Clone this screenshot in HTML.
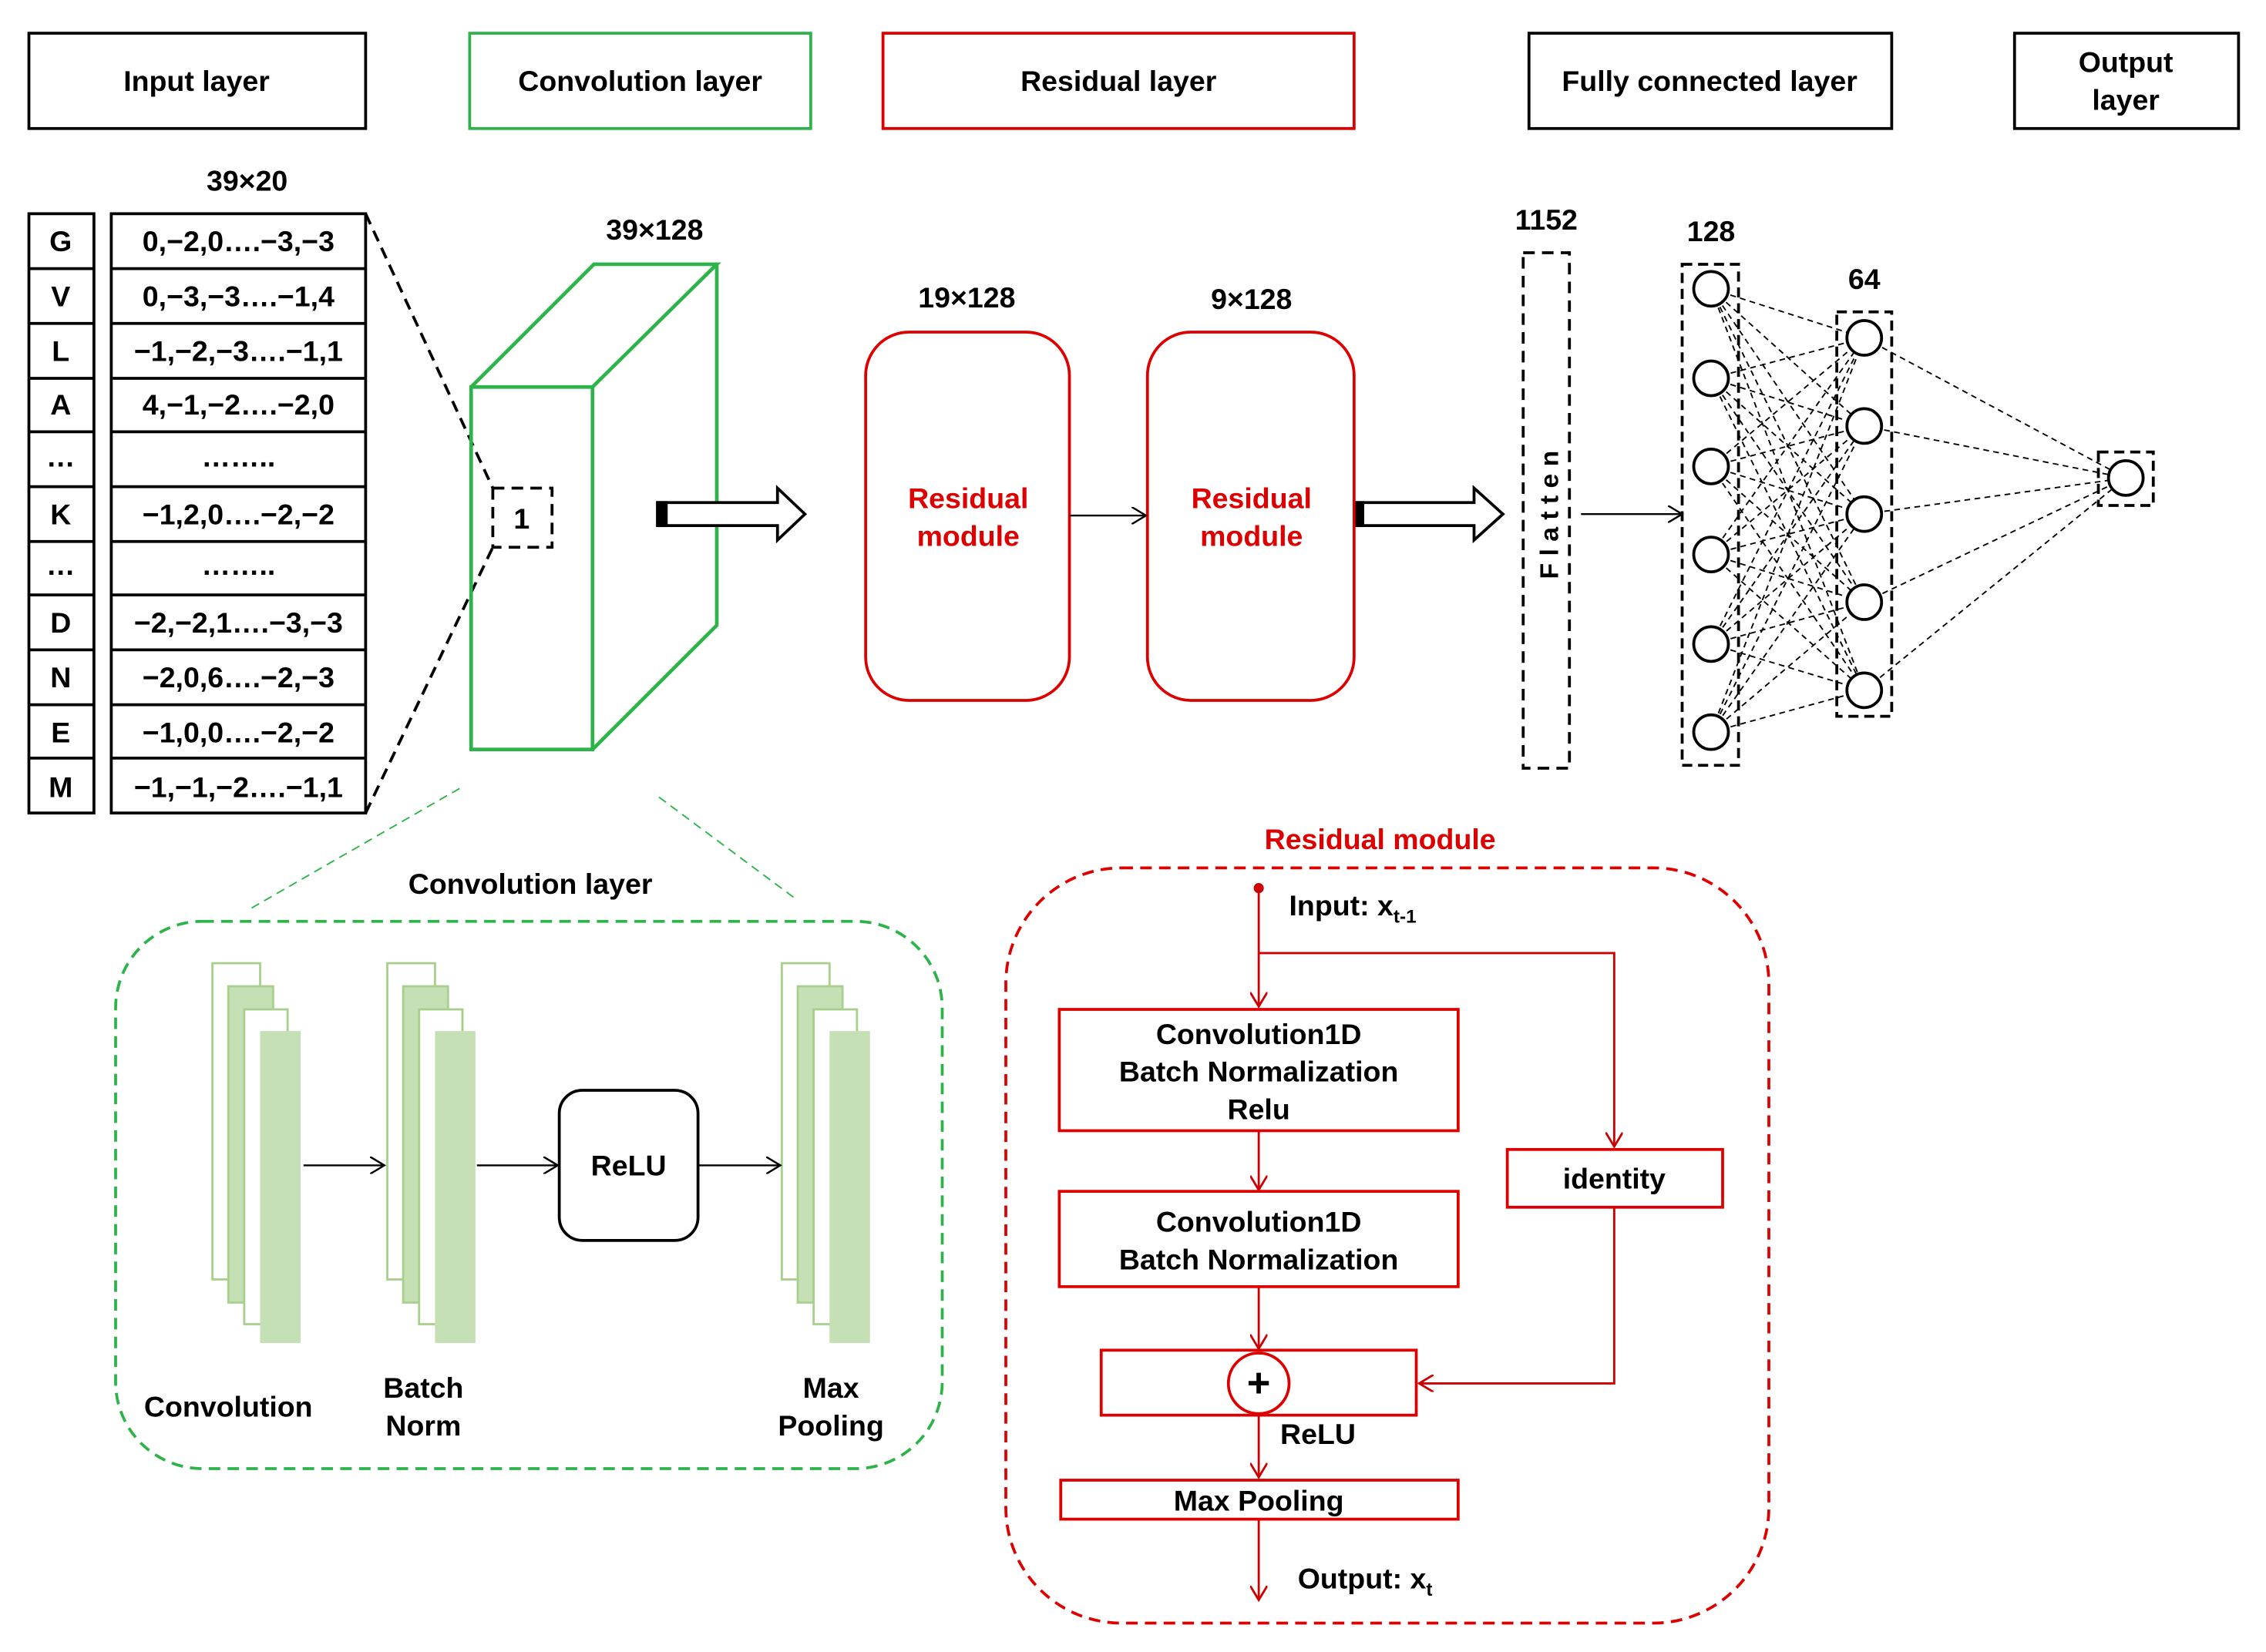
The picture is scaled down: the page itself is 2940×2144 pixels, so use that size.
<!DOCTYPE html>
<html><head><meta charset="utf-8"><style>
html,body{margin:0;padding:0;background:#fff}
svg{display:block}
text{font-family:"Liberation Sans",Arial,sans-serif;font-weight:bold;font-size:20px;fill:#000}
text.r{fill:#d00}
</style></head><body>
<svg width="2940" height="2144" viewBox="0 0 1568 1144" preserveAspectRatio="none" xmlns="http://www.w3.org/2000/svg">
<defs>
<marker id="ab" markerWidth="12" markerHeight="12" refX="10" refY="6" orient="auto" markerUnits="userSpaceOnUse"><path d="M0,0 L10,6 L0,12" fill="none" stroke="#000" stroke-width="1.3"/></marker>
<marker id="ar" markerWidth="12" markerHeight="12" refX="10" refY="6" orient="auto" markerUnits="userSpaceOnUse"><path d="M0,0 L10,6 L0,12" fill="none" stroke="#c00" stroke-width="1.5"/></marker>
</defs>
<g fill="none" stroke-width="2">
<rect x="20" y="23" width="233" height="66" stroke="#000"/>
<rect x="325" y="23" width="236" height="66" stroke="#2db34a"/>
<rect x="611" y="23" width="326" height="66" stroke="#d00"/>
<rect x="1058" y="23" width="251" height="66" stroke="#000"/>
<rect x="1394" y="23" width="155" height="66" stroke="#000"/>
</g>
<text x="136" y="63" text-anchor="middle">Input layer</text>
<text x="443" y="63" text-anchor="middle">Convolution layer</text>
<text x="774" y="63" text-anchor="middle">Residual layer</text>
<text x="1183" y="63" text-anchor="middle">Fully connected layer</text>
<text x="1471" y="50" text-anchor="middle">Output</text>
<text x="1471" y="76" text-anchor="middle">layer</text>

<text x="171" y="132" text-anchor="middle">39×20</text>
<g stroke="#000" stroke-width="2" fill="none">
<rect x="20" y="148" width="45" height="415"/>
<rect x="77" y="148" width="176" height="415"/>
<path d="M20,186H65M20,224H65M20,262H65M20,299H65M20,337H65M20,375H65M20,412H65M20,450H65M20,488H65M20,525H65"/>
<path d="M77,186H253M77,224H253M77,262H253M77,299H253M77,337H253M77,375H253M77,412H253M77,450H253M77,488H253M77,525H253"/>
</g>
<g text-anchor="middle">
<text x="42" y="174">G</text><text x="165" y="174">0,−2,0….−3,−3</text>
<text x="42" y="212">V</text><text x="165" y="212">0,−3,−3….−1,4</text>
<text x="42" y="250">L</text><text x="165" y="250">−1,−2,−3….−1,1</text>
<text x="42" y="287">A</text><text x="165" y="287">4,−1,−2….−2,0</text>
<text x="42" y="323">…</text><text x="165" y="323">……..</text>
<text x="42" y="363">K</text><text x="165" y="363">−1,2,0….−2,−2</text>
<text x="42" y="398">…</text><text x="165" y="398">……..</text>
<text x="42" y="438">D</text><text x="165" y="438">−2,−2,1….−3,−3</text>
<text x="42" y="476">N</text><text x="165" y="476">−2,0,6….−2,−3</text>
<text x="42" y="514">E</text><text x="165" y="514">−1,0,0….−2,−2</text>
<text x="42" y="552">M</text><text x="165" y="552">−1,−1,−2….−1,1</text>
</g>
<g stroke="#000" stroke-width="2" stroke-dasharray="8,5" fill="none">
<path d="M253,148L341,338"/><path d="M253,563L341,379"/>
<rect x="341" y="338" width="41" height="41"/>
</g>
<text x="361" y="366" text-anchor="middle">1</text>
<g stroke="#2db34a" stroke-width="2.5" fill="none">
<rect x="326" y="268" width="84" height="251"/>
<path d="M326,268L411,183H496L410,268M496,183V433L410,519"/>
</g>
<text x="453" y="166" text-anchor="middle">39×128</text>
<g stroke="#000" stroke-width="2" fill="#fff">
<path d="M455,348H538V338L557,356L538,374V364H455Z"/>
<rect x="455" y="348" width="6" height="16" fill="#000"/>
<path d="M937,348H1020V338L1040,356L1020,374V364H937Z"/>
<rect x="937" y="348" width="6" height="16" fill="#000"/>
</g>
<g stroke="#d00" stroke-width="2" fill="none">
<rect x="599" y="230" width="141" height="255" rx="30"/>
<rect x="794" y="230" width="143" height="255" rx="30"/>
</g>
<g text-anchor="middle">
<text class="r" x="670" y="352">Residual</text><text class="r" x="670" y="378">module</text>
<text class="r" x="866" y="352">Residual</text><text class="r" x="866" y="378">module</text>
</g>
<text x="669" y="213" text-anchor="middle">19×128</text>
<text x="866" y="214" text-anchor="middle">9×128</text>
<line x1="740" y1="357" x2="793" y2="357" stroke="#000" stroke-width="1.3" marker-end="url(#ab)"/>
<rect x="1054" y="175" width="32" height="357" fill="none" stroke="#000" stroke-width="2" stroke-dasharray="8,5"/>
<text transform="translate(1078,354) rotate(-90)" text-anchor="middle" style="letter-spacing:5px;font-size:18px">Flatten</text>
<text x="1070" y="159" text-anchor="middle">1152</text>
<line x1="1094" y1="356" x2="1164" y2="356" stroke="#000" stroke-width="1.3" marker-end="url(#ab)"/>
<text x="1184" y="167" text-anchor="middle">128</text>
<text x="1290" y="200" text-anchor="middle">64</text>
<g stroke="#000" stroke-width="1" stroke-dasharray="4,3" fill="none">
<path d="M1184,200L1290,234M1184,200L1290,295M1184,200L1290,356M1184,200L1290,417M1184,200L1290,478
M1184,262L1290,234M1184,262L1290,295M1184,262L1290,356M1184,262L1290,417M1184,262L1290,478
M1184,323L1290,234M1184,323L1290,295M1184,323L1290,356M1184,323L1290,417M1184,323L1290,478
M1184,384L1290,234M1184,384L1290,295M1184,384L1290,356M1184,384L1290,417M1184,384L1290,478
M1184,446L1290,234M1184,446L1290,295M1184,446L1290,356M1184,446L1290,417M1184,446L1290,478
M1184,507L1290,234M1184,507L1290,295M1184,507L1290,356M1184,507L1290,417M1184,507L1290,478
M1290,234L1471,331M1290,295L1471,331M1290,356L1471,331M1290,417L1471,331M1290,478L1471,331"/>
</g>
<g stroke="#000" stroke-width="2" stroke-dasharray="7,4" fill="none">
<rect x="1164" y="183" width="39" height="347"/>
<rect x="1271" y="216" width="38" height="280"/>
<rect x="1452" y="313" width="38" height="37"/>
</g>
<g stroke="#000" stroke-width="2" fill="#fff">
<circle cx="1184" cy="200" r="12"/><circle cx="1184" cy="262" r="12"/><circle cx="1184" cy="323" r="12"/>
<circle cx="1184" cy="384" r="12"/><circle cx="1184" cy="446" r="12"/><circle cx="1184" cy="507" r="12"/>
<circle cx="1290" cy="234" r="12"/><circle cx="1290" cy="295" r="12"/><circle cx="1290" cy="356" r="12"/>
<circle cx="1290" cy="417" r="12"/><circle cx="1290" cy="478" r="12"/>
<circle cx="1471" cy="331" r="12"/>
</g>

<g stroke="#2db34a" stroke-width="1" stroke-dasharray="6,4"><path d="M318,546L172,630M456,552L550,622"/></g>
<text x="367" y="619" text-anchor="middle">Convolution layer</text>
<rect x="80" y="638" width="572" height="379" rx="60" fill="none" stroke="#2db34a" stroke-width="2" stroke-dasharray="8,5"/>
<g stroke="#a8d08d" stroke-width="1.5">
<g id="stk">
<rect x="147" y="667" width="33" height="219" fill="#fff"/>
<rect x="158" y="683" width="31" height="219" fill="#c5e0b4"/>
<rect x="169" y="699" width="30" height="218" fill="#fff"/>
<rect x="180" y="714" width="28" height="216" fill="#c5e0b4" stroke="none"/>
</g>
<use href="#stk" transform="translate(121,0)"/>
<use href="#stk" transform="translate(394,0)"/>
</g>
<rect x="387" y="755" width="96" height="104" rx="16" fill="none" stroke="#000" stroke-width="2"/>
<text x="435" y="814" text-anchor="middle">ReLU</text>
<g stroke="#000" stroke-width="1.3">
<line x1="210" y1="807" x2="266" y2="807" marker-end="url(#ab)"/>
<line x1="330" y1="807" x2="386" y2="807" marker-end="url(#ab)"/>
<line x1="484" y1="807" x2="540" y2="807" marker-end="url(#ab)"/>
</g>
<text x="158" y="981" text-anchor="middle">Convolution</text>
<text x="293" y="968" text-anchor="middle">Batch</text><text x="293" y="994" text-anchor="middle">Norm</text>
<text x="575" y="968" text-anchor="middle">Max</text><text x="575" y="994" text-anchor="middle">Pooling</text>

<text class="r" x="955" y="588" text-anchor="middle">Residual module</text>
<rect x="696" y="601" width="528" height="523" rx="80" fill="none" stroke="#d00" stroke-width="2" stroke-dasharray="8,5"/>
<circle cx="871" cy="615" r="3.5" fill="#c00"/>
<g stroke="#c00" stroke-width="1.5" fill="none">
<line x1="871" y1="615" x2="871" y2="697" marker-end="url(#ar)"/>
<path d="M871,660H1117V794" marker-end="url(#ar)"/>
<line x1="871" y1="783" x2="871" y2="824" marker-end="url(#ar)"/>
<line x1="871" y1="891" x2="871" y2="934" marker-end="url(#ar)"/>
<path d="M1117,836V958H982" marker-end="url(#ar)"/>
<line x1="871" y1="980" x2="871" y2="1023" marker-end="url(#ar)"/>
<line x1="871" y1="1052" x2="871" y2="1108" marker-end="url(#ar)"/>
</g>
<g stroke="#d00" stroke-width="2" fill="#fff">
<rect x="733" y="699" width="276" height="84"/>
<rect x="733" y="825" width="276" height="66"/>
<rect x="762" y="935" width="218" height="45"/>
<circle cx="871" cy="958" r="21"/>
<rect x="1043" y="796" width="149" height="40"/>
<rect x="734" y="1025" width="275" height="27"/>
</g>
<text x="871" y="967" text-anchor="middle" style="font-size:28px">+</text>
<text x="892" y="634">Input: x<tspan style="font-size:13px" dy="5">t-1</tspan></text>
<text x="871" y="723" text-anchor="middle">Convolution1D</text>
<text x="871" y="749" text-anchor="middle">Batch Normalization</text>
<text x="871" y="775" text-anchor="middle">Relu</text>
<text x="871" y="853" text-anchor="middle">Convolution1D</text>
<text x="871" y="879" text-anchor="middle">Batch Normalization</text>
<text x="1117" y="823" text-anchor="middle">identity</text>
<text x="912" y="1000" text-anchor="middle">ReLU</text>
<text x="871" y="1046" text-anchor="middle">Max Pooling</text>
<text x="898" y="1100">Output: x<tspan style="font-size:13px" dy="5">t</tspan></text>
</svg>
</body></html>
